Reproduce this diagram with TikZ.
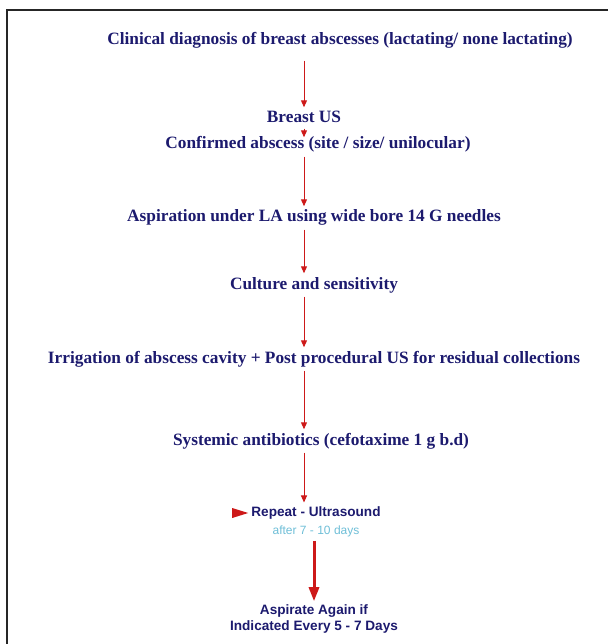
\documentclass[tikz,border=0pt]{standalone}
\usepackage{fontspec}
\setmainfont{Liberation Serif}
\newfontfamily\arialfont{Liberation Sans}
\usetikzlibrary{arrows.meta}
\definecolor{navy}{RGB}{28,26,110}
\definecolor{arrred}{RGB}{205,25,25}
\definecolor{lightblue}{RGB}{110,190,215}
\begin{document}
\begin{tikzpicture}[x=1pt,y=1pt,
		box/.style={inner sep=0pt,text height=11.5pt,text depth=3.5pt,text=navy,
			font=\fontsize{17.3}{20}\selectfont\bfseries},
		sbox/.style={inner sep=0pt,text=navy,align=center,
			font=\arialfont\fontsize{13.6}{16.5}\selectfont\bfseries},
		arr/.style={draw=arrred,line width=1pt,-{Triangle[width=6pt,length=7pt]},
			shorten <=4pt,shorten >=4pt},
		bigarr/.style={draw=arrred,line width=3pt,-{Triangle[width=10pt,length=14pt]},
			shorten <=4pt,shorten >=3pt}]
		\useasboundingbox (0,0) rectangle (608,-644);
		\draw[line width=2.5pt,black!85] (7,-644) -- (7,-10) -- (608,-10);

		\node[box] (clin) at (340,-41) {Clinical diagnosis of breast abscesses (lactating/ none lactating)};
		\node[box] (brus) at (304,-119) {Breast US};
		\node[box] (conf) at (318,-145) {Confirmed abscess (site / size/ unilocular)};
		\node[box] (aspi) at (314,-218) {Aspiration under LA using wide bore 14 G needles};
		\node[box] (cult) at (314,-285) {Culture and sensitivity};
		\node[box] (irri) at (314,-359) {Irrigation of abscess cavity + Post procedural US for residual collections};
		\node[box] (syst) at (321,-441) {Systemic antibiotics (cefotaxime 1 g b.d)};
		\node[sbox] (rep) at (316,-513) {Repeat - Ultrasound};
		\node[inner sep=0pt,text=lightblue,font=\arialfont\fontsize{12}{14}\selectfont] (after) at (316,-531) {after 7 - 10 days};
		\node[sbox] (again) at (314,-619) {Aspirate Again if\\Indicated Every 5 - 7 Days};

		\fill[arrred] ([xshift=-3pt]rep.west) -- ++(-16,5) -- ++(0,-10) -- cycle;

		\draw[arr,shorten <=12pt] (clin.south -| brus) -- (brus.north);
		\draw[arr,shorten <=2pt,shorten >=0pt] (brus.south) -- (conf.north -| brus);
		\draw[arr] (conf.south -| brus) -- (aspi.north -| brus);
		\draw[arr] (aspi.south -| brus) -- (cult.north -| brus);
		\draw[arr] (cult.south -| brus) -- (irri.north -| brus);
		\draw[arr] (irri.south -| brus) -- (syst.north -| brus);
		\draw[arr] (syst.south -| brus) -- (rep.north -| brus);
		\draw[bigarr] (after.south -| again) -- (again.north);
	\end{tikzpicture}
\end{document}
